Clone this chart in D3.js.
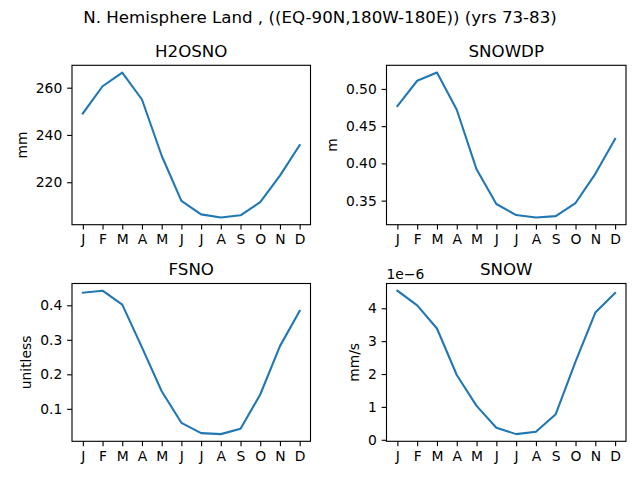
<!DOCTYPE html>
<html>
<head>
<meta charset="utf-8">
<script src="https://cdn.jsdelivr.net/npm/d3@7"></script>
<style>
  body { margin: 0; background: #fff; }
  svg { display: block; font-family: "DejaVu Sans", sans-serif; }
</style>
</head>
<body>
<svg width="640" height="480"></svg>
<script>
const months = ["J", "F", "M", "A", "M", "J", "J", "A", "S", "O", "N", "D"];

const h2osno = [249.1, 260.6, 266.4, 255.0, 231.2, 212.1, 206.4, 205.1, 206.0, 211.6, 222.8, 235.7];
const snowdp = [0.477, 0.511, 0.522, 0.472, 0.392, 0.3455, 0.3306, 0.3274, 0.3292, 0.3468, 0.386, 0.4328];
const fsno = [0.4366, 0.4424, 0.402, 0.278, 0.151, 0.0595, 0.0296, 0.0267, 0.042, 0.1415, 0.2817, 0.3836];
const snow = [4.535e-6, 4.09e-6, 3.384e-6, 1.97e-6, 1.03e-6, 0.364e-6, 0.172e-6, 0.242e-6, 0.778e-6, 2.38e-6, 3.87e-6, 4.465e-6];

const h2osnoTicks = [220, 240, 260];
const snowdpTicks = [0.35, 0.40, 0.45, 0.50];
const fsnoTicks = [0.1, 0.2, 0.3, 0.4];
const snowTicks = [0, 1e-6, 2e-6, 3e-6, 4e-6];

const svg = d3.select("svg");
const pt = 100 / 72;  // px per point at dpi 100

svg.append("text")
    .attr("x", 320).attr("y", 22.5)
    .attr("text-anchor", "middle")
    .style("font-size", (12 * pt) + "px")
    .text("N. Hemisphere Land , ((EQ-90N,180W-180E)) (yrs 73-83)");

const panels = [
    { title: "H2OSNO", unit: "mm", data: h2osno, ticks: h2osnoTicks, fmt: d3.format("d"),
      x0: 72, x1: 310.5, y0: 65.3, y1: 224.7 },
    { title: "SNOWDP", unit: "m", data: snowdp, ticks: snowdpTicks, fmt: d3.format(".2f"),
      x0: 386.5, x1: 626, y0: 65.3, y1: 224.7 },
    { title: "FSNO", unit: "unitless", data: fsno, ticks: fsnoTicks, fmt: d3.format(".1f"),
      x0: 72, x1: 310.5, y0: 283.5, y1: 441.3 },
    { title: "SNOW", unit: "mm/s", data: snow, ticks: snowTicks, fmt: d => Math.round(d / 1e-6),
      x0: 386.5, x1: 626, y0: 283.5, y1: 441.3, offset: "1e\u22126" },
];

const tickLen = 3.5 * pt;

panels.forEach(p => {
    const w = p.x1 - p.x0, h = p.y1 - p.y0;
    const g = svg.append("g").attr("transform", `translate(${p.x0},${p.y0})`);

    const x = d3.scaleLinear().domain([-0.55, 11.55]).range([0, w]);
    const [lo, hi] = d3.extent(p.data);
    const pad = (hi - lo) * 0.05;
    const y = d3.scaleLinear().domain([lo - pad, hi + pad]).range([h, 0]);

    const xAxis = g.append("g")
        .attr("transform", `translate(0,${h})`)
        .call(d3.axisBottom(x).tickValues(d3.range(12)).tickFormat(i => months[i])
            .tickSize(tickLen).tickPadding(tickLen).tickSizeOuter(0));

    const yAxis = g.append("g")
        .call(d3.axisLeft(y).tickValues(p.ticks).tickFormat(p.fmt)
            .tickSize(tickLen).tickPadding(tickLen).tickSizeOuter(0));

    [xAxis, yAxis].forEach(a => {
        a.select(".domain").remove();
        a.selectAll("line").attr("stroke", "#000").attr("stroke-width", 0.8 * pt);
        a.selectAll("text").attr("fill", "#000").style("font-size", (10 * pt) + "px")
            .style("font-family", "DejaVu Sans, sans-serif");
    });

    g.append("path")
        .datum(p.data)
        .attr("fill", "none")
        .attr("stroke", "#1f77b4")
        .attr("stroke-width", 1.5 * pt)
        .attr("stroke-linejoin", "round")
        .attr("stroke-linecap", "square")
        .attr("d", d3.line().x((d, i) => x(i)).y(d => y(d)));

    g.append("rect")
        .attr("width", w).attr("height", h)
        .attr("fill", "none").attr("stroke", "#000").attr("stroke-width", 0.8 * pt);

    g.append("text")
        .attr("x", w / 2).attr("y", -8.6)
        .attr("text-anchor", "middle")
        .style("font-size", (12 * pt) + "px")
        .text(p.title);

    // y label placed left of the tick labels, like matplotlib's labelpad
    let minX = 0;
    yAxis.selectAll("text").each(function () {
        minX = Math.min(minX, this.getBBox().x);
    });
    const lx = minX - 4 * pt - 3.3;
    g.append("text")
        .attr("transform", `translate(${lx},${h / 2}) rotate(-90)`)
        .attr("text-anchor", "middle")
        .style("font-size", (10 * pt) + "px")
        .text(p.unit);

    if (p.offset) {
        g.append("text")
            .attr("x", 0).attr("y", -4.8)
            .style("font-size", (10 * pt) + "px")
            .text(p.offset);
    }
});
</script>
</body>
</html>
